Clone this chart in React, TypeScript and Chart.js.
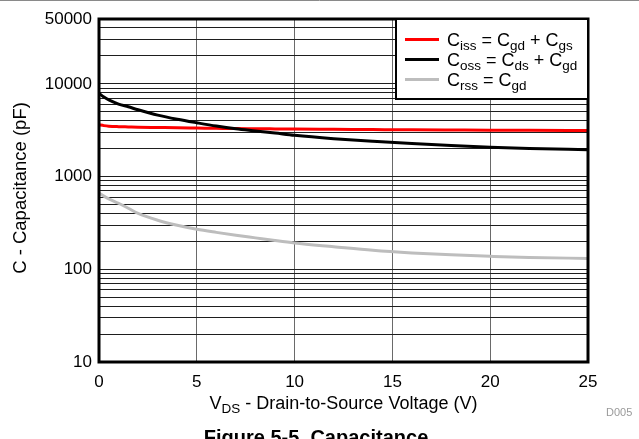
import { useEffect, useRef } from "react";
import { Chart, registerables } from "chart.js";

Chart.register(...registerables);

const vds = [0, 0.25, 0.5, 1, 1.5, 2, 3, 4, 5, 6, 7, 8, 9, 10, 12, 14, 16, 18, 20, 22, 25];
const ciss = [3620, 3540, 3490, 3450, 3430, 3410, 3380, 3350, 3330, 3310, 3290, 3280, 3265, 3250, 3230, 3210, 3190, 3175, 3160, 3150, 3130];
const coss = [7900, 7200, 6700, 6050, 5650, 5250, 4600, 4150, 3800, 3500, 3270, 3100, 2940, 2780, 2560, 2400, 2270, 2160, 2070, 2010, 1950];
const crss = [665, 615, 575, 515, 455, 400, 338, 298, 270, 250, 233, 218, 204, 192, 175, 160, 150, 143, 138, 134, 131];

const seriesLabels = ["C_{iss} = C_{gd} + C_{gs}", "C_{oss} = C_{ds} + C_{gd}", "C_{rss} = C_{gd}"];
const seriesColors = ["#ff0000", "#000000", "#bdbdbd"];

const yGridValues = [
  10, 20, 30, 40, 50, 60, 70, 80, 90,
  100, 200, 300, 400, 500, 600, 700, 800, 900,
  1000, 2000, 3000, 4000, 5000, 6000, 7000, 8000, 9000,
  10000, 20000, 30000, 40000, 50000,
];
const yLabelValues = [10, 100, 1000, 10000, 50000];

const xTitle = "V_{DS} - Drain-to-Source Voltage (V)";
const yTitle = "C - Capacitance (pF)";
const figureCode = "D005";
const caption = "Figure 5-5. Capacitance";

const FONT = "'Liberation Sans', Arial, sans-serif";

function parseRich(text: string): { t: string; sub: boolean }[] {
  const out: { t: string; sub: boolean }[] = [];
  const re = /_\{([^}]*)\}/g;
  let last = 0;
  let m: RegExpExecArray | null;
  while ((m = re.exec(text))) {
    if (m.index > last) out.push({ t: text.slice(last, m.index), sub: false });
    out.push({ t: m[1], sub: true });
    last = m.index + m[0].length;
  }
  if (last < text.length) out.push({ t: text.slice(last), sub: false });
  return out;
}

function drawRich(
  ctx: CanvasRenderingContext2D,
  text: string,
  x: number,
  baseline: number,
  mainSize: number,
  subSize: number,
  align: "left" | "center"
) {
  const parts = parseRich(text);
  const mainFont = `${mainSize}px ${FONT}`;
  const subFont = `${subSize}px ${FONT}`;
  let total = 0;
  for (const p of parts) {
    ctx.font = p.sub ? subFont : mainFont;
    total += ctx.measureText(p.t).width;
  }
  let cx = align === "center" ? x - total / 2 : x;
  ctx.textAlign = "left";
  ctx.textBaseline = "alphabetic";
  for (const p of parts) {
    ctx.font = p.sub ? subFont : mainFont;
    ctx.fillText(p.t, cx, p.sub ? baseline + 3.5 : baseline);
    cx += ctx.measureText(p.t).width;
  }
}

const decorPlugin = {
  id: "decor",
  afterDraw(chart: any) {
    const ctx: CanvasRenderingContext2D = chart.ctx;
    const a = chart.chartArea;
    ctx.save();

    // page top rule
    ctx.strokeStyle = "#8a8a8a";
    ctx.lineWidth = 1;
    ctx.beginPath();
    ctx.moveTo(0, 0.5);
    ctx.lineTo(chart.width, 0.5);
    ctx.stroke();

    // plot frame
    ctx.strokeStyle = "#000";
    ctx.lineWidth = 3;
    ctx.strokeRect(a.left, a.top, a.right - a.left, a.bottom - a.top);

    // legend
    const lx = 396;
    const ly = a.top;
    const lw = a.right - lx;
    const lh = 80;
    ctx.fillStyle = "#fff";
    ctx.fillRect(lx, ly, lw, lh);
    ctx.lineWidth = 2;
    ctx.strokeStyle = "#000";
    ctx.strokeRect(lx, ly, lw, lh);
    seriesLabels.forEach((lab, i) => {
      const base = ly + 27 + i * 20;
      const lineY = base - 6.5;
      ctx.strokeStyle = seriesColors[i];
      ctx.lineWidth = 3;
      ctx.beginPath();
      ctx.moveTo(405, lineY);
      ctx.lineTo(439, lineY);
      ctx.stroke();
      ctx.fillStyle = "#000";
      drawRich(ctx, lab, 447, base, 18, 13.5, "left");
    });

    // axis titles
    ctx.fillStyle = "#000";
    drawRich(ctx, xTitle, (a.left + a.right) / 2, 409, 18, 13.5, "center");

    ctx.save();
    ctx.translate(21, 188);
    ctx.rotate(-Math.PI / 2);
    ctx.font = `18.5px ${FONT}`;
    ctx.textAlign = "center";
    ctx.textBaseline = "middle";
    ctx.fillText(yTitle, 0, 0);
    ctx.restore();

    // figure code
    ctx.fillStyle = "#9a9a9a";
    ctx.font = `11px ${FONT}`;
    ctx.textAlign = "left";
    ctx.textBaseline = "middle";
    ctx.fillText(figureCode, 606, 413);

    // caption
    ctx.fillStyle = "#000";
    ctx.font = `bold 20px ${FONT}`;
    ctx.textAlign = "center";
    ctx.textBaseline = "alphabetic";
    ctx.fillText(caption, 316, 444);

    ctx.restore();
  },
};

export default function App() {
  const ref = useRef<HTMLCanvasElement | null>(null);

  useEffect(() => {
    if (!ref.current) return;
    const mk = (vals: number[]) => vds.map((x, i) => ({ x, y: vals[i] }));
    const chart = new Chart(ref.current, {
      type: "line",
      data: {
        datasets: [
          { label: seriesLabels[0], data: mk(ciss), borderColor: seriesColors[0], order: 1 },
          { label: seriesLabels[1], data: mk(coss), borderColor: seriesColors[1], order: 0 },
          { label: seriesLabels[2], data: mk(crss), borderColor: seriesColors[2], order: 2 },
        ].map((d) => ({
          ...d,
          borderWidth: 3,
          pointRadius: 0,
          fill: false,
          cubicInterpolationMode: "monotone" as const,
        })),
      },
      options: {
        animation: false,
        responsive: false,
        maintainAspectRatio: false,
        devicePixelRatio: 1,
        layout: { padding: { left: 0, top: 19, right: 51, bottom: 0 } },
        plugins: { legend: { display: false }, tooltip: { enabled: false } },
        scales: {
          x: {
            type: "linear",
            min: 0,
            max: 25,
            ticks: {
              stepSize: 5,
              color: "#000",
              font: { family: FONT, size: 17 },
              padding: 10,
              maxRotation: 0,
            },
            grid: { color: "#6a6a6a", lineWidth: 1, drawTicks: false },
            border: { display: false },
            afterFit: (s: any) => {
              s.height = 77;
            },
          },
          y: {
            type: "logarithmic",
            min: 10,
            max: 50000,
            afterBuildTicks: (s: any) => {
              s.ticks = yGridValues.map((v) => ({ value: v }));
            },
            ticks: {
              autoSkip: false,
              color: "#000",
              font: { family: FONT, size: 17 },
              padding: 7,
              callback: (v: any) => (yLabelValues.includes(Number(v)) ? String(v) : ""),
            },
            grid: { color: "#1e1e1e", lineWidth: 1, drawTicks: false },
            border: { display: false },
            afterFit: (s: any) => {
              s.width = 99;
            },
          },
        },
      },
      plugins: [decorPlugin],
    });
    return () => chart.destroy();
  }, []);

  return (
    <div
      style={{
        position: "fixed",
        left: 0,
        top: 0,
        width: 639,
        height: 439,
        overflow: "hidden",
        background: "#fff",
      }}
    >
      <canvas ref={ref} width={639} height={439} style={{ display: "block" }} />
    </div>
  );
}
